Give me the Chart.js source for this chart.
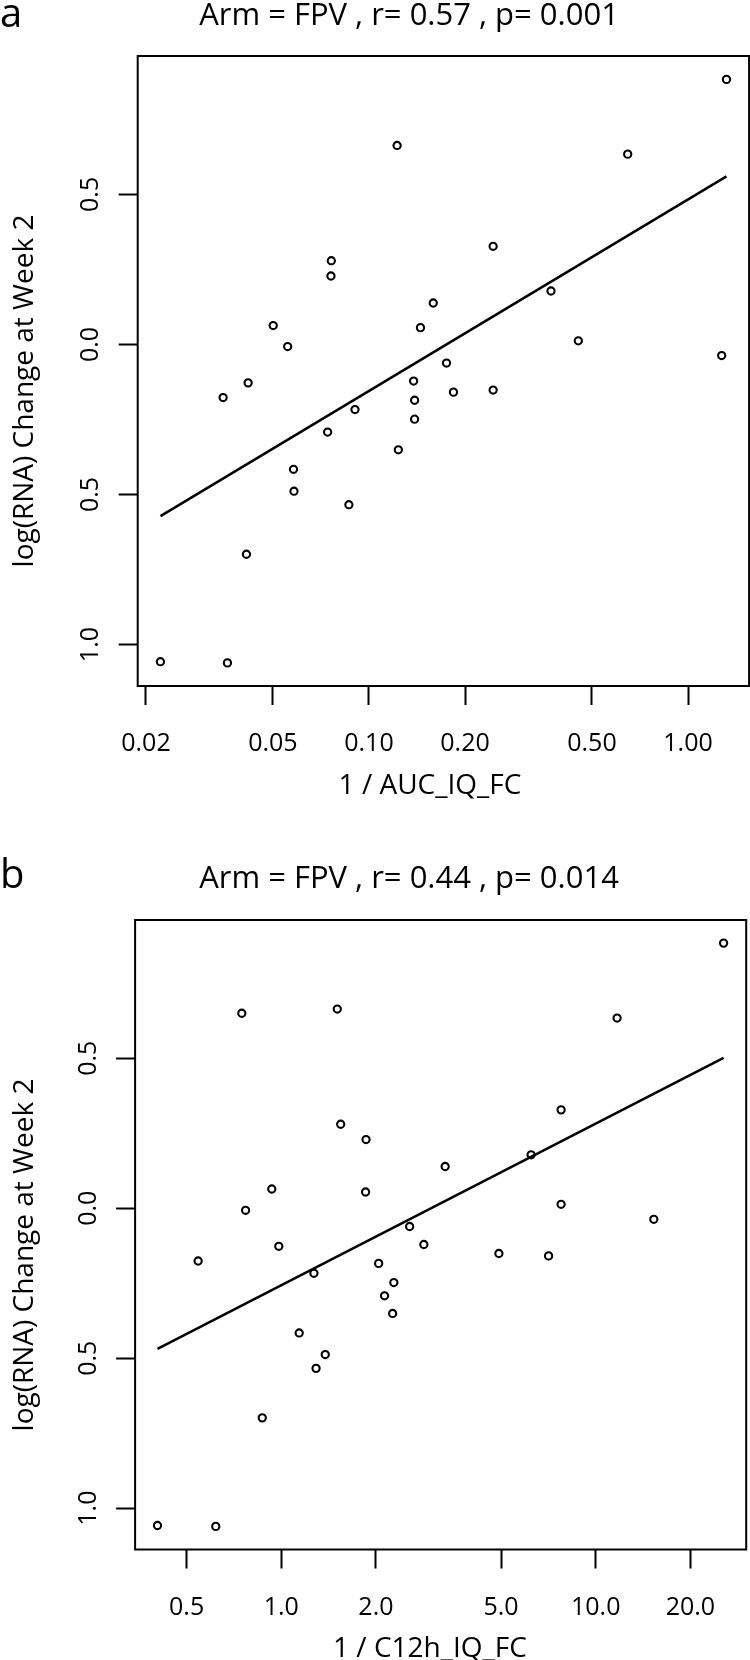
<!DOCTYPE html>
<html>
<head>
<meta charset="utf-8">
<title>log(RNA) change vs 1 / IQ</title>
<script src="https://cdn.jsdelivr.net/npm/chart.js@4.4.1/dist/chart.umd.min.js"></script>
<style>
  html, body { margin: 0; padding: 0; background: #fff; }
  canvas { display: block; }
</style>
</head>
<body>
<canvas id="chartA" width="750" height="830"></canvas>
<canvas id="chartB" width="750" height="830"></canvas>
<script>
// --- DATA: panel a (x = 1 / AUC_IQ_FC) ---
const xA = [1.32, 0.1225, 0.647, 0.245, 0.0762, 0.076, 0.372, 0.159, 0.0501, 0.145,
            0.0556, 0.453, 1.275, 0.175, 0.0418, 0.0349, 0.138, 0.139, 0.139, 0.184,
            0.245, 0.0904, 0.0742, 0.1236, 0.058, 0.0582, 0.0865, 0.0413, 0.0222, 0.036];
const yA = [0.883, 0.663, 0.634, 0.327, 0.279, 0.228, 0.178, 0.138, 0.063, 0.056,
            -0.007, 0.012, -0.037, -0.062, -0.128, -0.177, -0.122, -0.186, -0.249, -0.159,
            -0.152, -0.217, -0.292, -0.351, -0.416, -0.489, -0.534, -0.699, -1.057, -1.061];
const fitXA = [0.0222, 1.32];
const fitYA = [-0.572, 0.560];
const xTicksA = [0.02, 0.05, 0.1, 0.2, 0.5, 1.0];
const xTickLabelsA = ['0.02', '0.05', '0.10', '0.20', '0.50', '1.00'];

// --- DATA: panel b (x = 1 / C12h_IQ_FC) ---
const xB = [25.5, 0.749, 1.507, 11.69, 7.76, 1.545, 1.86, 6.23, 3.32, 0.933,
            1.854, 0.770, 7.76, 15.3, 2.56, 2.84, 0.982, 4.92, 7.08, 0.544,
            2.04, 1.27, 2.28, 2.13, 2.26, 1.14, 1.38, 1.29, 0.870, 0.404, 0.619];
const yB = [0.884, 0.650, 0.664, 0.634, 0.328, 0.280, 0.229, 0.178, 0.139, 0.064,
            0.054, -0.007, 0.013, -0.037, -0.061, -0.121, -0.127, -0.151, -0.159, -0.176,
            -0.184, -0.217, -0.248, -0.292, -0.351, -0.416, -0.488, -0.534, -0.699, -1.058, -1.061];
const fitXB = [0.404, 25.5];
const fitYB = [-0.469, 0.501];
const xTicksB = [0.5, 1, 2, 5, 10, 20];
const xTickLabelsB = ['0.5', '1.0', '2.0', '5.0', '10.0', '20.0'];

// shared y axis (the minus signs are missing in the original figure)
const yTicks = [-1.0, -0.5, 0.0, 0.5];
const yTickLabels = ['1.0', '0.5', '0.0', '0.5'];
const yLabel = 'log(RNA) Change at Week 2';

const FONT = '"Open Sans", "Noto Sans", sans-serif';

// --- panel layout (canvas-local pixels) ---
const panels = [
    {
        canvas: 'chartA', letter: 'a', title: 'Arm = FPV , r= 0.57 , p= 0.001', xLabel: '1 / AUC_IQ_FC',
        xs: xA, ys: yA, fitX: fitXA, fitY: fitYA, xTicks: xTicksA, xTickLabels: xTickLabelsA,
        xMin: 0.01884, xMax: 1.554,
        box: { left: 137.7, right: 749.1, top: 56, bottom: 686 },
        letterY: 27, titleY: 25, xLabelY: 794, yLabelCY: 391
    },
    {
        canvas: 'chartB', letter: 'b', title: 'Arm = FPV , r= 0.44 , p= 0.014', xLabel: '1 / C12h_IQ_FC',
        xs: xB, ys: yB, fitX: fitXB, fitY: fitYB, xTicks: xTicksB, xTickLabels: xTickLabelsB,
        xMin: 0.3429, xMax: 30.09,
        box: { left: 135.1, right: 746.2, top: 90, bottom: 719.5 },
        letterY: 58, titleY: 58, xLabelY: 827, yLabelCY: 425
    }
];

// letter, title, axis titles and the box round the plot
const panelText = {
    id: 'panelText',
    afterDraw(chart, args, o) {
        const ctx = chart.ctx;
        const a = chart.chartArea;
        ctx.save();
        ctx.fillStyle = '#000';
        ctx.textBaseline = 'alphabetic';
        ctx.textAlign = 'left';
        ctx.font = '40px ' + FONT;
        ctx.fillText(o.letter, 0, o.letterY);
        ctx.textAlign = 'center';
        ctx.font = '31px ' + FONT;
        ctx.fillText(o.title, 409, o.titleY);
        ctx.font = '28px ' + FONT;
        ctx.fillText(o.xLabel, 430, o.xLabelY);
        ctx.translate(33, o.yLabelCY);
        ctx.rotate(-Math.PI / 2);
        ctx.fillText(yLabel, 0, 0);
        ctx.restore();

        ctx.save();
        ctx.strokeStyle = '#000';
        ctx.lineWidth = 2;
        ctx.strokeRect(a.left, a.top, a.right - a.left, a.bottom - a.top);
        ctx.restore();
    }
};

function makeChart(p) {
    const H = 830;
    const points = p.xs.map((x, i) => ({ x: x, y: p.ys[i] }));
    const fit = p.fitX.map((x, i) => ({ x: x, y: p.fitY[i] }));
    const tickFont = { family: FONT, size: 25 };

    return new Chart(document.getElementById(p.canvas), {
        type: 'scatter',
        data: {
            datasets: [
                {
                    data: points,
                    pointStyle: 'circle',
                    pointRadius: 3.6,
                    pointHoverRadius: 3.6,
                    pointBorderWidth: 2.1,
                    pointBorderColor: '#000',
                    pointBackgroundColor: 'rgba(0,0,0,0)'
                },
                {
                    data: fit,
                    showLine: true,
                    pointRadius: 0,
                    borderColor: '#000',
                    borderWidth: 2.5,
                    fill: false
                }
            ]
        },
        options: {
            responsive: false,
            animation: false,
            devicePixelRatio: 1,
            events: [],
            layout: {
                autoPadding: false,
                padding: { left: 0, top: p.box.top, right: 750 - p.box.right, bottom: 0 }
            },
            plugins: {
                legend: { display: false },
                tooltip: { enabled: false },
                title: { display: false },
                panelText: p
            },
            scales: {
                x: {
                    type: 'logarithmic',
                    position: 'bottom',
                    bounds: 'data',
                    min: p.xMin,
                    max: p.xMax,
                    afterBuildTicks: s => { s.ticks = p.xTicks.map(v => ({ value: v })); },
                    afterFit: s => { s.height = H - p.box.bottom; },
                    border: { display: false },
                    grid: { drawOnChartArea: false, drawTicks: true, tickLength: 19, tickWidth: 2, tickColor: '#000' },
                    ticks: {
                        autoSkip: false, minRotation: 0, maxRotation: 0, padding: 24,
                        color: '#000', font: tickFont,
                        callback: (v, i) => p.xTickLabels[i]
                    }
                },
                y: {
                    type: 'linear',
                    position: 'left',
                    bounds: 'data',
                    min: -1.138,
                    max: 0.961,
                    afterBuildTicks: s => { s.ticks = yTicks.map(v => ({ value: v })); },
                    afterFit: s => { s.width = p.box.left; },
                    border: { display: false },
                    grid: { drawOnChartArea: false, drawTicks: true, tickLength: 19, tickWidth: 2, tickColor: '#000' },
                    ticks: {
                        autoSkip: false, minRotation: 90, maxRotation: 90, crossAlign: 'center', padding: 10,
                        color: '#000', font: tickFont,
                        callback: (v, i) => yTickLabels[i]
                    }
                }
            }
        },
        plugins: [panelText]
    });
}

document.fonts.load('25px "Open Sans"').finally(() => {
    panels.forEach(makeChart);
});
</script>
</body>
</html>
